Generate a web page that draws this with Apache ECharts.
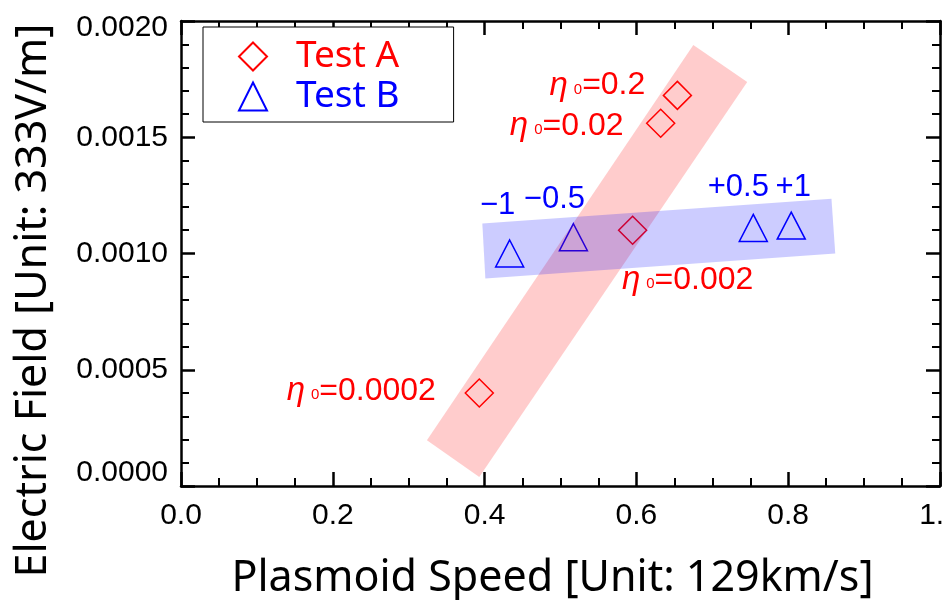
<!DOCTYPE html>
<html>
<head>
<meta charset="utf-8">
<script src="https://cdn.jsdelivr.net/npm/echarts@6/dist/echarts.min.js"></script>
<style>
  html, body { margin: 0; padding: 0; background: #fff; }
  #chart { width: 944px; height: 600px; }
</style>
</head>
<body>
<div id="chart"></div>
<script>
// Test A: resistivity scan (eta_0)
const speedA = [0.393, 0.595, 0.632, 0.654]
const fieldA = [0.0004, 0.0011, 0.00156, 0.00168]
const etaA = ['0.0002', '0.002', '0.02', '0.2']

// Test B: shift scan
const speedB = [0.433, 0.517, 0.754, 0.804]
const fieldB = [0.0010, 0.00107, 0.00111, 0.00112]
const shiftB = ['\u22121', '\u22120.5', '+0.5', '+1']

// shaded trend bands, corners as [speed, field]
const bandA = [[0.324, 0.000197], [0.675, 0.001897], [0.746, 0.001738], [0.393, 0.0000386]]
const bandB = [[0.397, 0.001129], [0.857, 0.001236], [0.862, 0.001], [0.401, 0.000893]]

const xTickLabels = ['0.0', '0.2', '0.4', '0.6', '0.8', '1.0']
const yTickLabels = ['0.0000', '0.0005', '0.0010', '0.0015', '0.0020']

// label offsets from the marker centre, px
const offsetA = [[-118, -2], [55, 50], [-94, 3], [-80, -10]]
const offsetB = [[-12, -48], [-19, -38], [-15, -40], [2, -38]]

const RED = '#ff0000'
const BLUE = '#0000ff'
const numFont = '"Liberation Sans", Arial, sans-serif'
const titleFont = '"Noto Sans", sans-serif'

const chart = echarts.init(document.getElementById('chart'), null, { renderer: 'canvas' })

const axisLine = { show: true, onZero: false, lineStyle: { color: '#000', width: 2.5 } }
const axisTick = { show: true, inside: true, length: 14, lineStyle: { color: '#000', width: 2.5 } }

function mirror(base, minorSplit) {
  return Object.assign({}, base, {
    name: '',
    axisLabel: { show: false },
    axisLine: axisLine,
    axisTick: axisTick,
    minorTick: { show: true, splitNumber: minorSplit, length: 8, lineStyle: { color: '#000', width: 2 } },
    splitLine: { show: false },
  })
}

const xBase = { type: 'value', min: 0, max: 1, interval: 0.2 }
const yBase = { type: 'value', min: 0, max: 0.002, interval: 0.0005 }

function etaLabel(v) {
  return '{eta|\u03b7}{sub|0}{val|=' + v + '}'
}

const richEta = {
  eta: { fontFamily: numFont, fontStyle: 'italic', fontSize: 33, color: RED, padding: [0, 6, 0, 0] },
  sub: { fontFamily: numFont, fontSize: 15, color: RED, verticalAlign: 'bottom', padding: [0, 0, 5, 0] },
  val: { fontFamily: numFont, fontSize: 32, color: RED },
}

chart.setOption({
  backgroundColor: '#fff',
  animation: false,
  grid: { left: 181, right: 4, top: 21, bottom: 114, outerBoundsMode: 'none', containLabel: false },
  legend: {
    left: 203,
    top: 27,
    orient: 'vertical',
    padding: [11, 54, 7, 35],
    itemWidth: 28,
    itemHeight: 28,
    itemGap: 3,
    symbolKeepAspect: true,
    borderColor: '#000',
    borderWidth: 1,
    backgroundColor: '#fff',
    formatter: (name) => '{t|' + name + '}',
    textStyle: {
      fontFamily: titleFont,
      fontSize: 37,
      lineHeight: 28,
      rich: { t: { fontFamily: titleFont, fontSize: 37, lineHeight: 28, padding: [0, 0, 0, 24] } },
    },
    data: [
      { name: 'Test A', textStyle: { color: RED, rich: { t: { color: RED } } } },
      { name: 'Test B', textStyle: { color: BLUE, rich: { t: { color: BLUE } } } },
    ],
  },
  xAxis: [
    Object.assign({}, xBase, {
      position: 'bottom',
      name: 'Plasmoid Speed [Unit: 129km/s]',
      nameLocation: 'middle',
      nameGap: 71,
      nameTextStyle: { fontFamily: titleFont, fontSize: 43, color: '#000', padding: [0, 16, 0, 0] },
      axisLine: axisLine,
      axisTick: axisTick,
      minorTick: { show: true, splitNumber: 4, length: 8, lineStyle: { color: '#000', width: 2 } },
      splitLine: { show: false },
      axisLabel: {
        margin: 15,
        fontFamily: numFont,
        fontSize: 30,
        color: '#000',
        formatter: (v, i) => xTickLabels[i],
      },
    }),
    mirror(Object.assign({}, xBase, { position: 'top' }), 4),
  ],
  yAxis: [
    Object.assign({}, yBase, {
      position: 'left',
      name: 'Electric Field [Unit: 333V/m]',
      nameLocation: 'middle',
      nameGap: 126,
      nameTextStyle: { fontFamily: titleFont, fontSize: 43, color: '#000', padding: [0, 94, 0, 0] },
      axisLine: axisLine,
      axisTick: axisTick,
      minorTick: { show: true, splitNumber: 5, length: 8, lineStyle: { color: '#000', width: 2 } },
      splitLine: { show: false },
      axisLabel: {
        margin: 13,
        fontFamily: numFont,
        fontSize: 30,
        color: '#000',
        verticalAlignMaxLabel: 'top',
        formatter: (v, i) => {
          if (i === 0) return '{lo|' + yTickLabels[i] + '}'
          if (i === yTickLabels.length - 1) return '{hi|' + yTickLabels[i] + '}'
          return yTickLabels[i]
        },
        rich: {
          lo: { fontFamily: numFont, fontSize: 30, color: '#000', padding: [0, 0, 26, 0] },
          hi: { fontFamily: numFont, fontSize: 30, color: '#000', lineHeight: 13 },
        },
      },
    }),
    mirror(Object.assign({}, yBase, { position: 'right' }), 5),
  ],
  series: [
    {
      name: 'Test A',
      type: 'scatter',
      symbol: 'diamond',
      symbolSize: 28,
      z: 2,
      itemStyle: { color: 'rgba(0,0,0,0)', borderColor: RED, borderWidth: 1.5, opacity: 1 },
      label: {
        show: true,
        position: 'inside',
        align: 'center',
        verticalAlign: 'middle',
        rich: richEta,
      },
      data: speedA.map((x, i) => ({
        value: [x, fieldA[i]],
        label: { offset: offsetA[i], formatter: etaLabel(etaA[i]) },
      })),
    },
    {
      name: 'Test B',
      type: 'scatter',
      symbol: 'triangle',
      symbolSize: [28, 27],
      z: 2,
      itemStyle: { color: 'rgba(0,0,0,0)', borderColor: BLUE, borderWidth: 1.5, opacity: 1 },
      label: {
        show: true,
        position: 'inside',
        align: 'center',
        verticalAlign: 'middle',
        fontFamily: numFont,
        fontSize: 31,
        color: BLUE,
      },
      data: speedB.map((x, i) => ({
        value: [x, fieldB[i]],
        label: { offset: offsetB[i], formatter: shiftB[i] },
      })),
    },
    ...[[bandA, 'rgba(255,0,0,0.2)'], [bandB, 'rgba(0,0,255,0.2)']].map(([band, fill]) => ({
      type: 'custom',
      silent: true,
      z: 3,
      encode: { x: [0, 2, 4, 6], y: [1, 3, 5, 7] },
      data: [band.flat()],
      renderItem: (params, api) => ({
        type: 'polygon',
        shape: { points: [0, 1, 2, 3].map((k) => api.coord([api.value(2 * k), api.value(2 * k + 1)])) },
        style: { fill: fill },
      }),
    })),
  ],
})
</script>
</body>
</html>
